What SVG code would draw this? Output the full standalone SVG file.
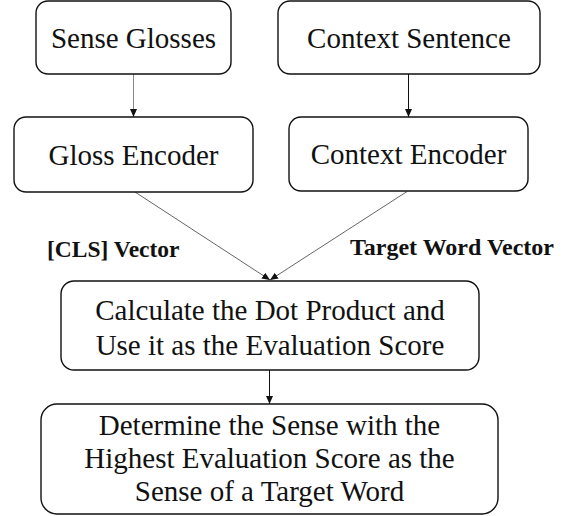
<svg xmlns="http://www.w3.org/2000/svg" width="575" height="516" viewBox="0 0 575 516">
<style>
.box{fill:#fff;stroke:#111;stroke-width:1.4}
.t{font-family:'Liberation Serif',Tinos,'Times New Roman',Times,'DejaVu Serif',serif;font-size:29px;fill:#111;text-anchor:middle}
.lbl{font-family:'Liberation Serif',Tinos,'Times New Roman',Times,'DejaVu Serif',serif;font-weight:bold;fill:#111}
.c{fill:none;stroke-width:1}
</style>
<defs>
<marker id="ah" markerWidth="8" markerHeight="10" refX="8" refY="5" orient="auto" markerUnits="userSpaceOnUse" viewBox="0 0 8 10">
<path d="M0,1.5 L8,5 L0,8.5 Z" fill="#111"/>
</marker>
</defs>
<rect width="575" height="516" fill="#fff"/>
<g id="connectors">
<line class="c" x1="133.5" y1="74" x2="133.5" y2="117" stroke="#888" marker-end="url(#ah)"/>
<line class="c" x1="408.5" y1="74" x2="408.5" y2="117" stroke="#111" marker-end="url(#ah)"/>
<line class="c" x1="135" y1="192" x2="270" y2="280" stroke="#666" marker-end="url(#ah)"/>
<line class="c" x1="407" y1="191.5" x2="270" y2="280" stroke="#666" marker-end="url(#ah)"/>
<line class="c" x1="269.5" y1="370" x2="269.5" y2="404" stroke="#111" marker-end="url(#ah)"/>
</g>
<g id="sense-glosses">
<rect class="box" x="36" y="1" width="195" height="73" rx="12"/>
<text class="t" x="133.5" y="47.5" font-family="Liberation Serif, serif">Sense Glosses</text>
</g>
<g id="context-sentence">
<rect class="box" x="278" y="1" width="262" height="73" rx="12"/>
<text class="t" x="409" y="47.5" font-family="Liberation Serif, serif">Context Sentence</text>
</g>
<g id="gloss-encoder">
<rect class="box" x="14" y="117" width="239" height="75" rx="12"/>
<text class="t" x="133.5" y="165" font-family="Liberation Serif, serif">Gloss Encoder</text>
</g>
<g id="context-encoder">
<rect class="box" x="289" y="117" width="239" height="74" rx="12"/>
<text class="t" x="408.5" y="164" font-family="Liberation Serif, serif">Context Encoder</text>
</g>
<g id="label-cls">
<text class="lbl" x="47" y="257" font-size="23.5" font-family="Liberation Serif, serif">[CLS] Vector</text>
</g>
<g id="label-target">
<text class="lbl" x="350" y="255" font-size="24" font-family="Liberation Serif, serif">Target Word Vector</text>
</g>
<g id="dot-product">
<rect class="box" x="61" y="281" width="418" height="89" rx="13"/>
<text class="t" x="270" y="319.5" font-family="Liberation Serif, serif">Calculate the Dot Product and</text>
<text class="t" x="270" y="354.5" font-family="Liberation Serif, serif">Use it as the Evaluation Score</text>
</g>
<g id="determine-sense">
<rect class="box" x="41" y="404" width="457" height="110" rx="16"/>
<text class="t" x="269.5" y="435" font-family="Liberation Serif, serif">Determine the Sense with the</text>
<text class="t" x="269.5" y="468" font-family="Liberation Serif, serif">Highest Evaluation Score as the</text>
<text class="t" x="269.5" y="501" font-family="Liberation Serif, serif">Sense of a Target Word</text>
</g>
</svg>
